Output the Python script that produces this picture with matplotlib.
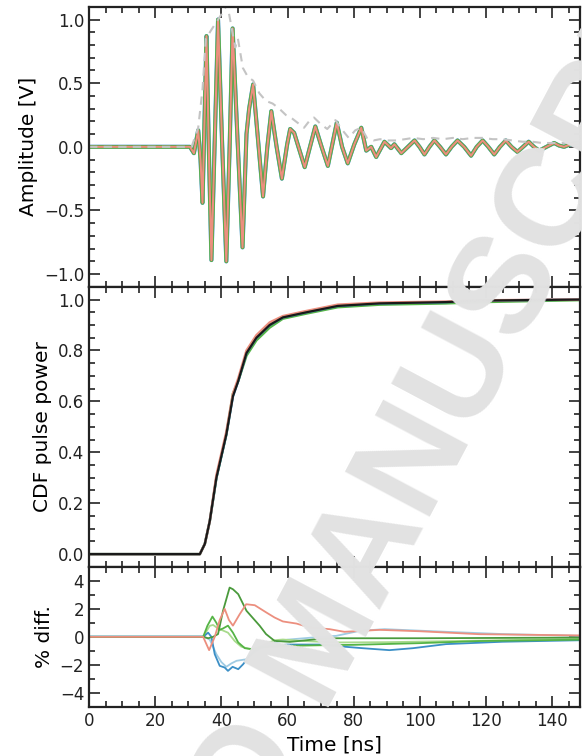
import matplotlib
matplotlib.use('Agg')
import matplotlib.pyplot as plt
from matplotlib.ticker import MultipleLocator
import numpy as np

# --- pulse waveform (peaks, troughs and crossings) ---
t_wave = [0, 30.5, 31.7, 33.0, 33.7, 34.3, 34.9, 35.5, 36.2, 37.0, 38.0, 39.0,
          40.2, 41.5, 42.5, 43.4, 44.9, 46.4, 47.6, 48.4, 49.6, 51.1, 52.6, 53.9,
          55.1, 56.7, 58.3, 59.9, 60.8, 62.0, 63.3, 65.2, 66.8, 68.4, 70.3, 72.2,
          74.9, 76.5, 78.2, 80.2, 82.3, 83.8, 85.3, 86.8, 89.3, 91.3, 92.3, 94.4,
          96.4, 98.4, 99.9, 101.4, 102.9, 104.4, 106.1, 107.9, 109.6, 111.4, 113.4,
          115.5, 117.2, 119.0, 120.7, 122.5, 124.2, 126.0, 127.7, 129.5, 131.2,
          132.9, 134.5, 136.1, 138.3, 140.6, 142.1, 143.6, 145.6, 147.6, 149.0]
amp_wave = [0, 0, -0.05, 0.13, -0.10, -0.44, 0.20, 0.87, 0.0, -0.89, 0.05, 1.0,
            0.05, -0.90, 0.0, 0.93, 0.05, -0.79, 0.10, 0.30, 0.49, 0.05, -0.39, 0.0,
            0.28, 0.0, -0.25, 0.02, 0.14, 0.11, 0.0, -0.16, 0.0, 0.16, 0.0, -0.15,
            0.19, 0.0, -0.13, 0.02, 0.15, -0.03, 0.0, -0.08, 0.04, -0.01, 0.02, -0.05,
            0.0, 0.05, 0.0, -0.06, 0.0, 0.05, 0.0, -0.06, 0.0, 0.05, 0.0,
            -0.07, 0.0, 0.05, 0.0, -0.06, 0.0, 0.05, 0.0, -0.04, 0.0,
            0.04, 0.0, -0.03, 0.0, 0.03, 0.01, 0.0, 0.02, 0.03, 0.03]

t_env = [0, 31.0, 33.0, 34.3, 35.3, 37.0, 39.0, 40.5, 41.8, 43.0, 44.2, 45.0,
         46.5, 48.0, 49.6, 51.5, 53.5, 55.5, 57.5, 59.5, 61.5, 63.5, 65.0, 66.5,
         68.0, 70.0, 72.0, 74.5, 76.0, 78.5, 80.5, 82.3, 84.0, 86.0, 88.0, 90.0,
         93.0, 95.5, 98.0, 101.0, 104.0, 107.0, 110.0, 113.0, 116.0, 119.0, 122.0,
         125.0, 128.0, 131.0, 134.0, 137.0, 140.0, 143.0, 146.0, 149.0]
amp_env = [0, 0.0, 0.15, 0.45, 0.85, 0.92, 1.0, 1.06, 1.12, 0.95, 0.78, 0.85,
           0.62, 0.55, 0.52, 0.42, 0.36, 0.34, 0.30, 0.25, 0.22, 0.18, 0.15, 0.20,
           0.23, 0.18, 0.14, 0.21, 0.15, 0.07, 0.13, 0.15, 0.07, 0.05, 0.06, 0.05,
           0.05, 0.06, 0.07, 0.06, 0.07, 0.06, 0.07, 0.06, 0.07, 0.07, 0.06,
           0.06, 0.05, 0.04, 0.04, 0.03, 0.03, 0.03, 0.03, 0.03]

# --- cumulative pulse power ---
t_cdf = [0, 33.5, 35.0, 36.5, 38.5, 41.5, 43.5, 45.1, 47.6, 50.6, 54.6, 58.6,
         65.7, 75.2, 87.8, 107.9, 118.0, 149.0]
cdf_black = [0, 0.0, 0.04, 0.13, 0.30, 0.47, 0.62, 0.68, 0.79, 0.85, 0.90, 0.93,
             0.95, 0.975, 0.985, 0.99, 0.996, 1.0]
cdf_salmon = [0, 0.0, 0.04, 0.13, 0.31, 0.48, 0.63, 0.69, 0.80, 0.86, 0.91, 0.935,
              0.955, 0.98, 0.988, 0.992, 0.997, 1.0]
cdf_green = [0, 0.0, 0.04, 0.13, 0.30, 0.47, 0.63, 0.68, 0.78, 0.84, 0.89, 0.925,
             0.945, 0.97, 0.98, 0.985, 0.99, 0.998]

# --- percent difference per channel ---
t_salmon = [0, 34.5, 36.3, 38.0, 39.5, 41.0, 42.3, 43.5, 45.5, 47.5, 50.1, 53.6,
            56.1, 58.6, 62.7, 66.7, 72.7, 77.2, 87.8, 100, 118, 149]
d_salmon = [0, 0, -0.95, 0.0, 1.2, 2.0, 1.2, 0.8, 1.6, 2.33, 2.26, 1.74,
            1.38, 1.1, 0.95, 0.67, 0.55, 0.36, 0.5, 0.4, 0.19, 0.1]
t_dgreen = [0, 34.5, 36.0, 37.5, 39.0, 40.5, 42.5, 43.5, 45.1, 47.6, 51.6, 53.5,
            56.1, 60.7, 68.7, 75, 100, 149]
d_dgreen = [0, 0, -0.1, 0.0, 0.2, 1.86, 3.52, 3.4, 3.05, 1.86, 0.79, 0.2,
            -0.29, -0.36, -0.17, -0.1, -0.1, -0.05]
t_green = [0, 34.5, 35.8, 37.3, 38.5, 39.5, 40.5, 42.0, 43.5, 45.1, 47.1, 49.6,
           52, 56.1, 60.7, 70, 80, 100, 118, 149]
d_green = [0, 0, 0.8, 1.45, 1.0, 0.5, 0.6, 0.8, 0.3, -0.4, -0.81, -0.88,
           -0.75, -0.7, -0.64, -0.6, -0.57, -0.45, -0.3, -0.2]
t_lgreen = [0, 34.5, 36.5, 37.5, 39, 42, 44, 46, 47.6, 49, 51.6, 54, 56.1, 58.6,
            65, 75, 90, 110, 149]
d_lgreen = [0, 0, 0.79, 0.85, 0.6, 0.3, -0.29, -0.7, -0.81, -0.9, -0.71, -0.45,
            -0.24, -0.19, -0.3, -0.4, -0.38, -0.3, -0.15]
t_blue = [0, 34.5, 36.0, 37.0, 38.0, 39.5, 41.0, 42.0, 43.4, 45.1, 46.6, 48, 50,
          52, 55, 60, 70, 77, 82.7, 90.8, 97.9, 107.9, 125, 149]
d_blue = [0, 0, 0.3, 0.0, -1.24, -2.07, -2.19, -2.43, -2.14, -2.31, -1.95, -1.5,
          -1.0, -0.76, -0.64, -0.55, -0.55, -0.7, -0.81, -0.95, -0.81, -0.52, -0.35,
          -0.24]
t_lblue = [0, 34.5, 36.5, 38.5, 40, 41.5, 43, 44.6, 47.6, 50, 52, 56, 60, 70,
           74.7, 81.8, 89.3, 107.9, 125, 149]
d_lblue = [0.05, 0.05, -0.2, -1.24, -1.8, -2.14, -1.9, -1.71, -1.6, -1.1, -0.8,
           -0.4, -0.2, 0.0, 0.07, 0.43, 0.55, 0.36, 0.2, 0.07]

c_salmon = '#ec8f7f'
c_blue = '#3b8fc6'
c_lblue = '#9fcbe3'
c_green = '#55b446'
c_dgreen = '#4a9a3c'
c_lgreen = '#a8da8c'

plt.rcParams['font.family'] = 'DejaVu Sans'
plt.rcParams['font.size'] = 12
plt.rcParams['axes.labelsize'] = 14.5
plt.rcParams['xtick.color'] = '#222222'
plt.rcParams['ytick.color'] = '#222222'

fig = plt.figure(figsize=(5.82, 7.56), dpi=100)
gs = fig.add_gridspec(3, 1, height_ratios=[2, 2, 1], hspace=0,
                      left=0.153, right=0.997, top=0.991, bottom=0.065)
ax1 = fig.add_subplot(gs[0])
ax2 = fig.add_subplot(gs[1], sharex=ax1)
ax3 = fig.add_subplot(gs[2], sharex=ax1)

# amplitude
ax1.plot(t_wave, amp_wave, color=c_lblue, lw=3.0)
ax1.plot(t_wave, amp_wave, color=c_blue, lw=2.9)
ax1.plot(t_wave, amp_wave, color=c_lgreen, lw=2.6)
ax1.plot(t_wave, amp_wave, color=c_green, lw=2.5)
ax1.plot(t_wave, amp_wave, color=c_dgreen, lw=2.1)
ax1.plot(t_wave, amp_wave, color=c_salmon, lw=1.5)
ax1.plot(t_env, amp_env, color='#c4c4c4', lw=1.5, dashes=(4, 3))
ax1.set_ylim(-1.1, 1.1)
ax1.set_ylabel('Amplitude [V]')
ax1.yaxis.set_major_locator(MultipleLocator(0.5))
ax1.yaxis.set_minor_locator(MultipleLocator(0.1))
plt.setp(ax1.get_xticklabels(), visible=False)

# cdf
ax2.plot(t_cdf, cdf_green, color=c_green, lw=1.8)
ax2.plot(t_cdf, cdf_black, color=c_blue, lw=1.8)
ax2.plot(t_cdf, cdf_salmon, color=c_salmon, lw=1.8)
ax2.plot(t_cdf, cdf_black, color='#1a1a1a', lw=1.6)
ax2.set_ylim(-0.05, 1.05)
ax2.set_ylabel('CDF pulse power')
ax2.yaxis.set_major_locator(MultipleLocator(0.2))
ax2.yaxis.set_minor_locator(MultipleLocator(0.05))
plt.setp(ax2.get_xticklabels(), visible=False)

# percent difference
ax3.plot(t_lblue, d_lblue, color=c_lblue, lw=1.3)
ax3.plot(t_lgreen, d_lgreen, color=c_lgreen, lw=1.3)
ax3.plot(t_blue, d_blue, color=c_blue, lw=1.3)
ax3.plot(t_green, d_green, color=c_green, lw=1.3)
ax3.plot(t_dgreen, d_dgreen, color=c_dgreen, lw=1.3)
ax3.plot(t_salmon, d_salmon, color=c_salmon, lw=1.3)
ax3.set_ylim(-5, 5)
ax3.set_ylabel('% diff.')
ax3.set_xlabel('Time [ns]')
ax3.yaxis.set_major_locator(MultipleLocator(2))
ax3.yaxis.set_minor_locator(MultipleLocator(1))

ax3.set_xlim(0, 148.5)
for ax in (ax1, ax2, ax3):
    ax.xaxis.set_major_locator(MultipleLocator(20))
    ax.xaxis.set_minor_locator(MultipleLocator(5))
    ax.tick_params(which='both', direction='in', top=True, right=True, width=1.2)
    ax.tick_params(which='major', length=8)
    ax.tick_params(which='minor', length=4)
    for s in ax.spines.values():
        s.set_linewidth(1.6)
        s.set_color('#222222')

# watermark on top of everything
fig.text(322 / 582, 1 - 644 / 756, 'ACCEPTED MANUSCRIPT', fontsize=100,
         family='Liberation Sans', fontweight='bold',
         color='#e2e2e2', rotation=62, rotation_mode='anchor',
         ha='center', va='center', zorder=100)

fig.savefig('out.png', dpi=100)
